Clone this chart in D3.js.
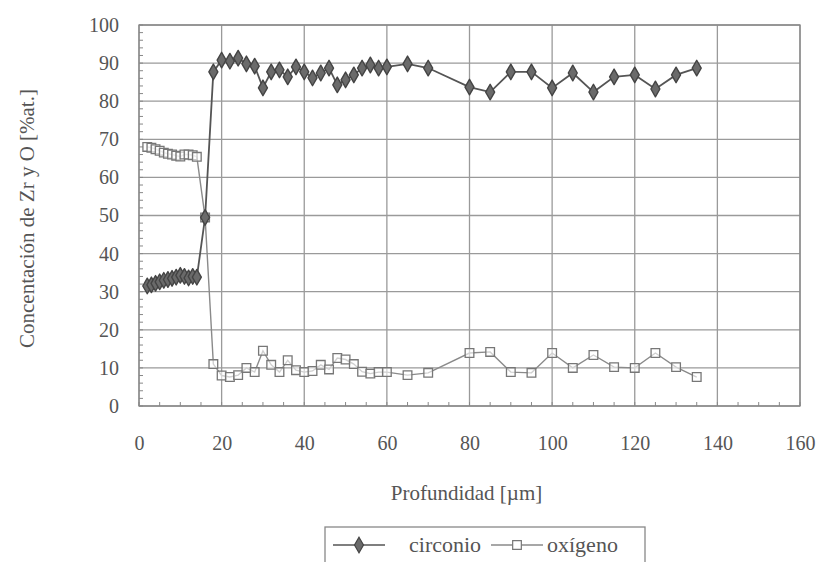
<!DOCTYPE html>
<html>
<head>
<meta charset="utf-8">
<script src="https://cdn.jsdelivr.net/npm/d3@7"></script>
<style>
  html, body { margin: 0; padding: 0; background: #fff; }
  svg text { font-family: "Liberation Serif", "Times New Roman", Times, Tinos, "DejaVu Serif", "Noto Serif", serif; fill: #555; }
</style>
</head>
<body>
<div id="chart"></div>
<script>
// depth in µm
const depthZr = [2, 3, 4, 5, 6, 7, 8, 9, 10, 11, 12, 13, 14, 16,
  18, 20, 22, 24, 26, 28, 30, 32, 34, 36, 38, 40, 42, 44, 46, 48, 50, 52, 54, 56, 58, 60,
  65, 70, 80, 85, 90, 95, 100, 105, 110, 115, 120, 125, 130, 135];
const circonio = [31.5, 31.8, 32.2, 32.6, 33, 33.2, 33.5, 33.8, 34.3, 34, 33.6, 34, 33.8, 49.5,
  87.7, 90.8, 90.5, 91.3, 89.8, 89.2, 83.5, 87.7, 88.2, 86.4, 89, 87.7, 86.1, 87.4, 88.7, 84.3, 85.6, 86.9, 88.7, 89.5, 88.7, 89,
  89.8, 88.7, 83.7, 82.4, 87.7, 87.7, 83.5, 87.4, 82.4, 86.4, 86.9, 83.2, 86.9, 88.7];

const depthO = depthZr;
const oxigeno = [68, 67.8, 67.4, 67, 66.5, 66.2, 66, 65.7, 65.5, 66, 66, 65.8, 65.4, 49.5,
  11, 8, 7.6, 8.1, 10, 8.9, 14.5, 10.8, 8.9, 12, 9.4, 8.9, 9.2, 10.8, 9.6, 12.6, 12.2, 11, 9, 8.5, 8.9, 8.9,
  8.1, 8.7, 13.9, 14.2, 8.9, 8.7, 13.9, 10, 13.4, 10.2, 10, 13.9, 10.2, 7.6];

const xTicks = [0, 20, 40, 60, 80, 100, 120, 140, 160];
const yTicks = [0, 10, 20, 30, 40, 50, 60, 70, 80, 90, 100];
const seriesNames = ['circonio', 'oxígeno'];

const FONT = '"Liberation Serif", "Times New Roman", Times, Tinos, "DejaVu Serif", "Noto Serif", serif';
const width = 825, height = 562;
const margin = { left: 139, right: 25, top: 25, bottom: 156 };

const svg = d3.select('#chart').append('svg')
  .attr('width', width)
  .attr('height', height)
  .attr('font-family', FONT);

const x = d3.scaleLinear().domain([0, 160]).range([margin.left, width - margin.right]);
const y = d3.scaleLinear().domain([0, 100]).range([height - margin.bottom, margin.top]);

const grid = svg.append('g');
// grid lines
grid.selectAll('.gx').data(xTicks).join('line')
  .attr('x1', d => x(d)).attr('x2', d => x(d))
  .attr('y1', y(0)).attr('y2', y(100))
  .attr('stroke', '#9a9a9a').attr('stroke-width', 1.3);
grid.selectAll('.gy').data(yTicks).join('line')
  .attr('x1', x(0)).attr('x2', x(160))
  .attr('y1', d => y(d)).attr('y2', d => y(d))
  .attr('stroke', '#9a9a9a').attr('stroke-width', 1.3);

// minor ticks pointing inward
grid.selectAll('.my').data(d3.range(0, 101, 2)).join('line')
  .attr('x1', x(0)).attr('x2', x(0) + 4)
  .attr('y1', d => y(d)).attr('y2', d => y(d))
  .attr('stroke', '#888');
grid.selectAll('.mx').data(d3.range(0, 161, 5)).join('line')
  .attr('x1', d => x(d)).attr('x2', d => x(d))
  .attr('y1', y(0)).attr('y2', y(0) - 4)
  .attr('stroke', '#888');

svg.append('rect')
  .attr('x', x(0)).attr('y', y(100))
  .attr('width', x(160) - x(0)).attr('height', y(0) - y(100))
  .attr('fill', 'none').attr('stroke', '#888').attr('stroke-width', 1.3);

// axes (labels only)
const xAxis = svg.append('g')
  .attr('transform', `translate(0,${y(0)})`)
  .call(d3.axisBottom(x).tickValues(xTicks).tickSize(0).tickPadding(30));
const yAxis = svg.append('g')
  .attr('transform', `translate(${x(0)},0)`)
  .call(d3.axisLeft(y).tickValues(yTicks).tickSize(0).tickPadding(20));
[xAxis, yAxis].forEach(a => {
  a.attr('font-family', FONT);
  a.select('.domain').remove();
  a.selectAll('text').style('font-size', '20px').attr('fill', '#555');
});

svg.append('text')
  .attr('x', (x(0) + x(160)) / 2 - 3).attr('y', 500)
  .attr('text-anchor', 'middle')
  .style('font-size', '21px')
  .text('Profundidad [µm]');

svg.append('text')
  .attr('transform', `translate(34,${(y(0) + y(100)) / 2 + 3}) rotate(-90)`)
  .attr('text-anchor', 'middle')
  .style('font-size', '21px')
  .text('Concentación de Zr y O [%at.]');

const line = d3.line().x(d => x(d[0])).y(d => y(d[1]));
const zrData = d3.zip(depthZr, circonio);
const oData = d3.zip(depthO, oxigeno);

const diamond = d3.symbol().type(d3.symbolDiamond).size(70);
const square = d3.symbol().type(d3.symbolSquare).size(75);

// oxygen series
svg.append('path').datum(oData)
  .attr('d', line).attr('fill', 'none')
  .attr('stroke', '#8a8a8a').attr('stroke-width', 1.4);
svg.append('g').selectAll('path').data(oData).join('path')
  .attr('transform', d => `translate(${x(d[0])},${y(d[1])})`)
  .attr('d', square)
  .attr('fill', '#fff').attr('fill-opacity', 0.6)
  .attr('stroke', '#777').attr('stroke-width', 1.3);

// zirconium series
svg.append('path').datum(zrData)
  .attr('d', line).attr('fill', 'none')
  .attr('stroke', '#555').attr('stroke-width', 1.8);
svg.append('g').selectAll('path').data(zrData).join('path')
  .attr('transform', d => `translate(${x(d[0])},${y(d[1])})`)
  .attr('d', diamond)
  .attr('fill', '#6a6a6a')
  .attr('stroke', '#444').attr('stroke-width', 1.4).attr('stroke-linejoin', 'round');

// legend
const lg = svg.append('g').attr('transform', 'translate(325,527)');
lg.append('rect').attr('x', 0).attr('y', 0).attr('width', 320).attr('height', 40)
  .attr('fill', '#fff').attr('stroke', '#888').attr('stroke-width', 1.3);
const items = [
  { name: seriesNames[0], x0: 8, sym: diamond, fill: '#6a6a6a', stroke: '#444', lineCol: '#555', tx: 84 },
  { name: seriesNames[1], x0: 166, sym: square, fill: '#fff', stroke: '#777', lineCol: '#8a8a8a', tx: 222 }
];
items.forEach(it => {
  lg.append('line').attr('x1', it.x0).attr('x2', it.x0 + 52)
    .attr('y1', 18).attr('y2', 18)
    .attr('stroke', it.lineCol).attr('stroke-width', 1.6);
  lg.append('path').attr('transform', `translate(${it.x0 + 26},18)`)
    .attr('d', it.sym).attr('fill', it.fill).attr('stroke', it.stroke).attr('stroke-width', 1.2);
  lg.append('text').attr('x', it.tx).attr('y', 25)
    .style('font-size', '22px').text(it.name);
});
</script>
</body>
</html>
